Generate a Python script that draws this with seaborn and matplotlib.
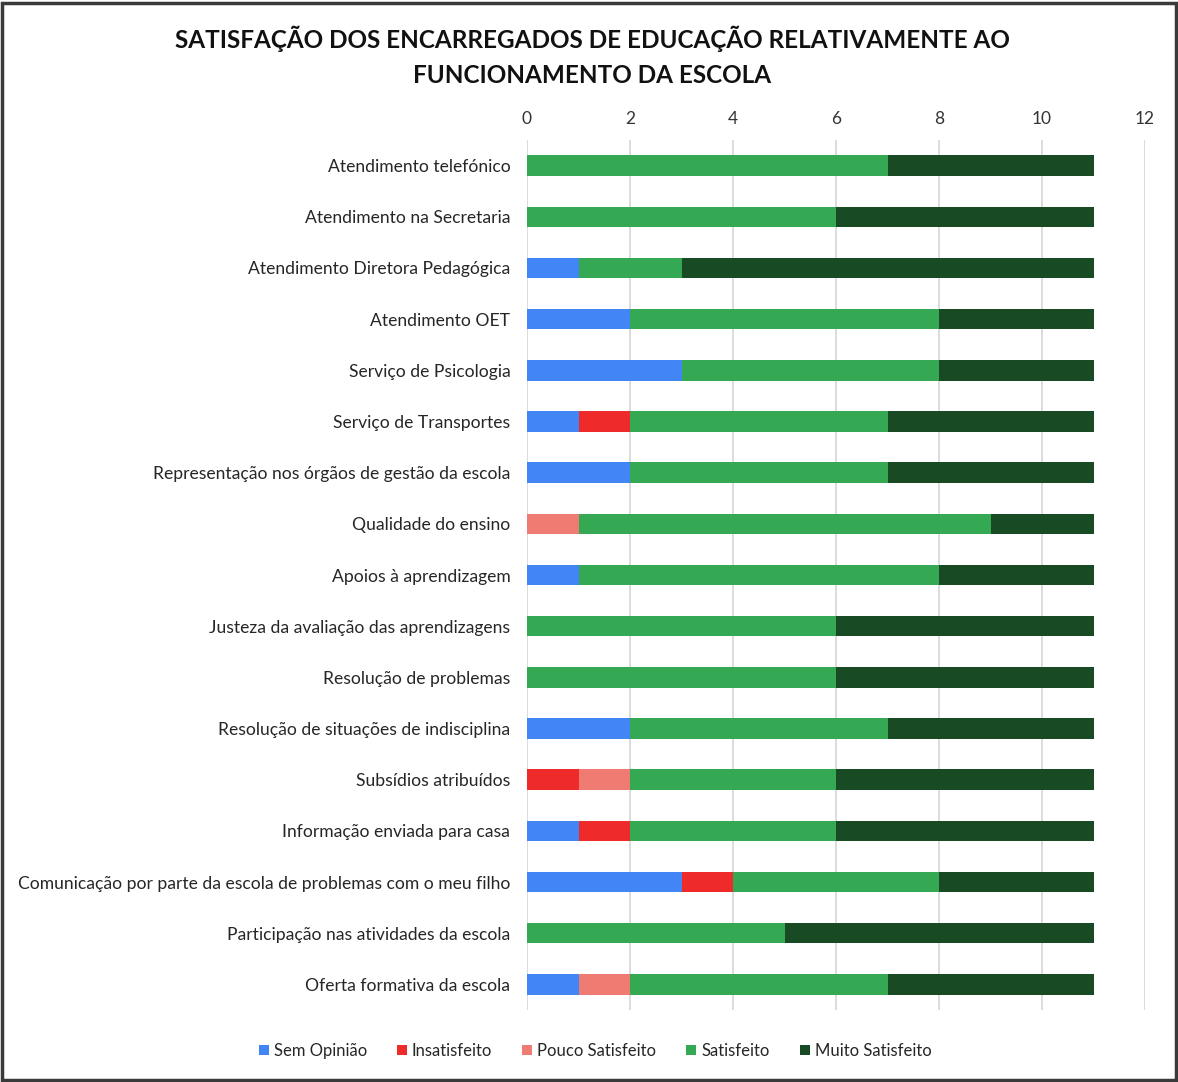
import numpy as np
import pandas as pd
import matplotlib
matplotlib.use("Agg")
import matplotlib.pyplot as plt
from matplotlib.patches import Patch, Rectangle
import seaborn as sns

categories = [
    "Atendimento telefónico",
    "Atendimento na Secretaria",
    "Atendimento Diretora Pedagógica",
    "Atendimento OET",
    "Serviço de Psicologia",
    "Serviço de Transportes",
    "Representação nos órgãos de gestão da escola",
    "Qualidade do ensino",
    "Apoios à aprendizagem",
    "Justeza da avaliação das aprendizagens",
    "Resolução de problemas",
    "Resolução de situações de indisciplina",
    "Subsídios atribuídos",
    "Informação enviada para casa",
    "Comunicação por parte da escola de problemas com o meu filho",
    "Participação nas atividades da escola",
    "Oferta formativa da escola",
]
series_names = ["Sem Opinião", "Insatisfeito", "Pouco Satisfeito", "Satisfeito", "Muito Satisfeito"]
sem_opiniao      = [0, 0, 1, 2, 3, 1, 2, 0, 1, 0, 0, 2, 0, 1, 3, 0, 1]
insatisfeito     = [0, 0, 0, 0, 0, 1, 0, 0, 0, 0, 0, 0, 1, 1, 1, 0, 0]
pouco_satisfeito = [0, 0, 0, 0, 0, 0, 0, 1, 0, 0, 0, 0, 1, 0, 0, 0, 1]
satisfeito       = [7, 6, 2, 6, 5, 5, 5, 8, 7, 6, 6, 5, 4, 4, 4, 5, 5]
muito_satisfeito = [4, 5, 8, 3, 3, 4, 4, 2, 3, 5, 5, 4, 5, 5, 3, 6, 4]
x_ticks = [0, 2, 4, 6, 8, 10, 12]

colors = ["#4285F4", "#EE2A2A", "#F07B72", "#34A853", "#184A23"]

sns.set_theme(style="white")
plt.rcParams["font.family"] = ["Lato", "DejaVu Sans"]

fig = plt.figure(figsize=(11.78, 10.82), dpi=100)
ax = fig.add_axes([527 / 1178, 1 - 1010 / 1082, 618 / 1178, 870 / 1082])

values = np.array([sem_opiniao, insatisfeito, pouco_satisfeito, satisfeito, muito_satisfeito], dtype=float)
cum = np.cumsum(values, axis=0)

# draw from the outermost cumulative layer to the innermost
for i in range(len(series_names) - 1, -1, -1):
    df = pd.DataFrame({"cat": categories, "val": cum[i]})
    sns.barplot(data=df, y="cat", x="val", orient="h", color=colors[i],
                width=0.4, saturation=1, ax=ax, order=categories, linewidth=0)

ax.set_xlim(0, 12)
ax.set_ylim(16.5, -0.5)
ax.set_xticks(x_ticks)
ax.xaxis.tick_top()
ax.set_xlabel("")
ax.set_ylabel("")
ax.tick_params(axis="x", length=0, pad=9, labelsize=12.5, colors="#333333")
ax.tick_params(axis="y", length=0, pad=12, labelsize=12.6, colors="#262626")
ax.grid(axis="x", color="#d6d6d6", linewidth=1.2)
ax.set_axisbelow(True)
for s in ax.spines.values():
    s.set_visible(False)

fig.text(0.503, 1 - 26 / 1082, "SATISFAÇÃO DOS ENCARREGADOS DE EDUCAÇÃO RELATIVAMENTE AO\nFUNCIONAMENTO DA ESCOLA",
         ha="center", va="top", fontsize=17.5, fontweight="bold", color="#111111", linespacing=1.6)

handles = [Patch(facecolor=c, edgecolor="none") for c in colors]
fig.legend(handles, series_names, loc="center", bbox_to_anchor=(595 / 1178, 1 - 1051 / 1082),
           ncol=5, frameon=False, fontsize=12, handlelength=0.6, handleheight=0.6,
           handletextpad=0.3, columnspacing=1.8, labelcolor="#262626")

fig.patches.append(Rectangle((0.0015, 0.002), 0.997, 0.995, transform=fig.transFigure,
                             fill=False, edgecolor="#3a3a3a", linewidth=2.5))

fig.savefig("out.png", dpi=100, facecolor="white")
